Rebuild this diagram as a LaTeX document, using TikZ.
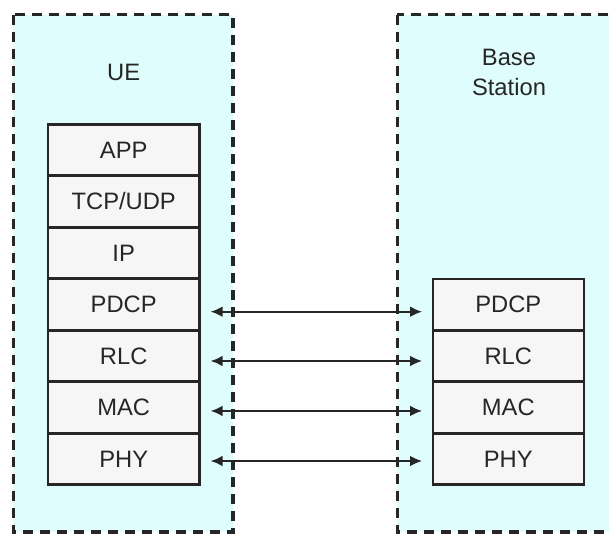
\documentclass[tikz,border=0pt]{standalone}
\usepackage{fontspec}
\setmainfont{Liberation Sans}
\usetikzlibrary{arrows.meta}
\definecolor{zonefill}{HTML}{E0FDFD}
\definecolor{layerfill}{HTML}{F6F6F6}
\definecolor{ink}{HTML}{262626}
\begin{document}
\begin{tikzpicture}[x=0.75pt,y=-0.75pt,
  zone/.style={draw=ink, fill=zonefill, line width=2.4pt, dash pattern=on 7.5pt off 5.25pt},
  layer/.style={draw=ink, fill=layerfill, line width=1.9pt, rectangle, inner sep=0pt,
    minimum width=113.3pt, minimum height=38.6pt, text=ink,
    font=\fontsize{17.8}{21}\selectfont},
  title/.style={text=ink, align=center, font=\fontsize{17.8}{22.5}\selectfont},
  link/.style={draw=ink, line width=1.6pt, {Latex[length=9pt,width=8pt]}-{Latex[length=9pt,width=8pt]}}]
\useasboundingbox (0,0) rectangle (609,534);
\clip (0,0) rectangle (609,534);
% containers
\draw[zone] (13.3,14.7) rectangle (233,532);
\draw[zone] (397.3,14.7) rectangle (640,532);
\node[title] (ue) at (123.7,72) {UE};
\node[title] (bs) at (509,72) {Base\\Station};
% UE stack
\node[layer] (app) at (123.7,150) {APP};
\node[layer] (tcp) at (123.7,201.5) {TCP/UDP};
\node[layer] (ip) at (123.7,253) {IP};
\node[layer] (updcp) at (123.7,304.5) {PDCP};
\node[layer] (urlc) at (123.7,356) {RLC};
\node[layer] (umac) at (123.7,407.5) {MAC};
\node[layer] (uphy) at (123.7,459) {PHY};
% BS stack
\node[layer] (bpdcp) at (508.3,304.5) {PDCP};
\node[layer] (brlc) at (508.3,356) {RLC};
\node[layer] (bmac) at (508.3,407.5) {MAC};
\node[layer] (bphy) at (508.3,459) {PHY};
% links
\draw[link] ([xshift=7.5pt,yshift=-5.4pt]updcp.east) -- ([xshift=-7pt,yshift=-5.4pt]bpdcp.west);
\draw[link] ([xshift=7.5pt,yshift=-3.75pt]urlc.east) -- ([xshift=-7pt,yshift=-3.75pt]brlc.west);
\draw[link] ([xshift=7.5pt,yshift=-2.6pt]umac.east) -- ([xshift=-7pt,yshift=-2.6pt]bmac.west);
\draw[link] ([xshift=7.5pt,yshift=-1.5pt]uphy.east) -- ([xshift=-7pt,yshift=-1.5pt]bphy.west);
\end{tikzpicture}
\end{document}
